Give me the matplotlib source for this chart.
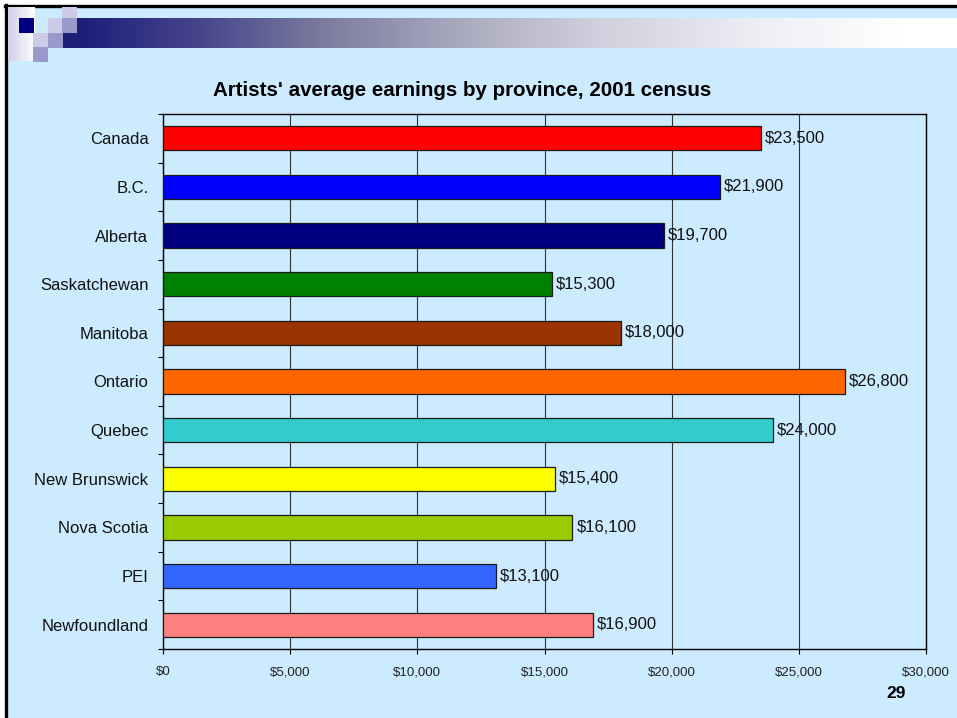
import numpy as np
import matplotlib
matplotlib.use('Agg')
import matplotlib.pyplot as plt
from matplotlib.patches import Rectangle
from matplotlib.ticker import FuncFormatter, MultipleLocator

plt.rcParams['font.family'] = ['Liberation Sans', 'DejaVu Sans']

# data
provinces = ['Canada', 'B.C.', 'Alberta', 'Saskatchewan', 'Manitoba', 'Ontario',
             'Quebec', 'New Brunswick', 'Nova Scotia', 'PEI', 'Newfoundland']
earnings = [23500, 21900, 19700, 15300, 18000, 26800, 24000, 15400, 16100, 13100, 16900]
bar_colors = ['#FF0000', '#0000FF', '#000080', '#008000', '#993300', '#FF6600',
              '#33CCCC', '#FFFF00', '#99CC00', '#3366FF', '#FF8080']
title = "Artists' average earnings by province, 2001 census"
page_no = '29'

W, H = 957, 718
fig = plt.figure(figsize=(W / 100, H / 100), dpi=100)
fig.patch.set_facecolor('white')

# slide background (pixel coordinates)
bg = fig.add_axes([0, 0, 1, 1])
bg.set_xlim(0, W)
bg.set_ylim(H, 0)
bg.axis('off')
bg.add_patch(Rectangle((6, 6), W, H, facecolor='#CCEBFF', edgecolor='none'))
bg.plot([5.5, 5.5], [5, H], color='black', lw=2.4)
bg.plot([5, W], [5.5, 5.5], color='black', lw=2.4)

# header gradient bar
xs = np.array([62, 80, 200, 320, 460, 600, 760, 900, 957])
cr = np.array([[30, 30, 120], [30, 30, 122], [70, 70, 140], [122, 122, 158],
               [170, 170, 190], [208, 208, 222], [238, 238, 245], [255, 255, 255],
               [255, 255, 255]]) / 255.0
gx = np.linspace(62, W, 600)
grad = np.stack([np.interp(gx, xs, cr[:, k]) for k in range(3)], axis=-1)[None, :, :]
bg.imshow(grad, extent=(62, W, 48, 18), aspect='auto', interpolation='bilinear', zorder=1)

# lavender-to-white rectangle at the far left
lg = np.linspace(0, 1, 100)
lav = np.array([208, 206, 232]) / 255.0
lgrad = (lav[None, :] * (1 - lg[:, None]) + lg[:, None])[None, :, :]
bg.imshow(lgrad, extent=(8, 35, 61, 7), aspect='auto', interpolation='bilinear', zorder=2)

squares = [
    (19, 18, '#000080'),
    (62, 7, '#CCCCE6'),
    (48, 18, '#CCCCE6'),
    (62, 18, '#9999CC'),
    (33, 33, '#CCCCE6'),
    (48, 33, '#9999CC'),
    (33, 47, '#9999CC'),
]
for sx, sy, sc in squares:
    bg.add_patch(Rectangle((sx, sy), 15, 14.5, facecolor=sc, edgecolor='none', zorder=3))

bg.set_xlim(0, W)
bg.set_ylim(H, 0)

# chart
ax = fig.add_axes([163 / W, 1 - 649 / H, (926 - 163) / W, (649 - 114) / H])
ax.set_facecolor('none')
ypos = np.arange(len(provinces))
ax.barh(ypos, earnings, height=0.5, color=bar_colors, edgecolor='#1a1a1a',
        linewidth=0.9, zorder=3)
for y, v in zip(ypos, earnings):
    ax.text(v + 150, y, f'${v:,}', va='center', ha='left', fontsize=12,
            color='#111111', zorder=4)

ax.set_xlim(0, 30000)
ax.set_ylim(len(provinces) - 0.5, -0.5)
ax.xaxis.set_major_locator(MultipleLocator(5000))
ax.xaxis.set_major_formatter(FuncFormatter(lambda v, p: f'${int(v):,}'))
ax.tick_params(axis='x', direction='out', length=3.6, width=0.8, labelsize=9.5,
               pad=9, colors='black', labelcolor='#222222')
ax.grid(axis='x', color='#333333', linewidth=0.8, zorder=1)

ax.set_yticks(ypos)
ax.set_yticklabels(provinces, fontsize=12)
ax.set_yticks(np.arange(-0.5, len(provinces), 1), minor=True)
ax.tick_params(axis='y', which='major', length=0, pad=10.5, labelcolor='#111111')
ax.tick_params(axis='y', which='minor', direction='out', length=3.6, width=0.8)
for s in ax.spines.values():
    s.set_color('black')
    s.set_linewidth(1.0)

fig.text(462 / W, 1 - 90 / H, title, ha='center', va='center', fontsize=14.8,
         fontweight='bold', color='black')
fig.text(896 / W, 1 - 693 / H, page_no, ha='center', va='center', fontsize=12.5,
         fontweight='bold', color='black')

fig.savefig('out.png', dpi=100)
